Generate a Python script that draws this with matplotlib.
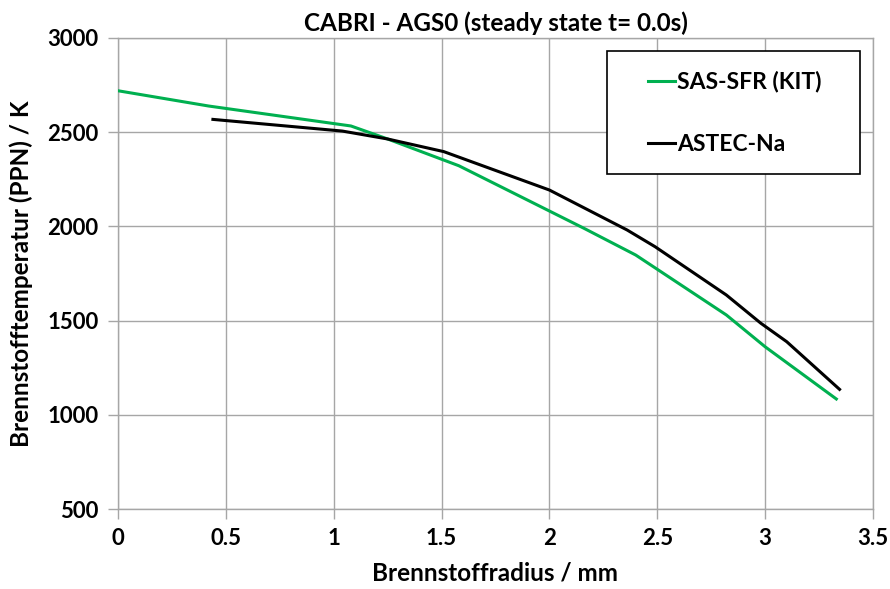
import matplotlib
matplotlib.use("Agg")
import matplotlib.pyplot as plt
from matplotlib.patches import Rectangle

# Data
sas_x = [0.0, 0.42, 1.08, 1.25, 1.58, 2.16, 2.40, 2.82, 3.00, 3.33]
sas_y = [2720, 2639, 2533, 2464, 2322, 1990, 1848, 1530, 1361, 1084]

astec_x = [0.44, 1.04, 1.25, 1.51, 2.00, 2.27, 2.36, 2.49, 2.82, 2.98, 3.10, 3.345]
astec_y = [2568, 2506, 2464, 2397, 2193, 2034, 1981, 1892, 1636, 1486, 1388, 1135]

x_ticks = [0, 0.5, 1, 1.5, 2, 2.5, 3, 3.5]
x_ticklabels = ["0", "0.5", "1", "1.5", "2", "2.5", "3", "3.5"]
y_ticks = [500, 1000, 1500, 2000, 2500, 3000]

title = "CABRI - AGS0 (steady state t= 0.0s)"
xlabel = "Brennstoffradius / mm"
ylabel = "Brennstofftemperatur (PPN) / K"
labels = ["SAS-SFR (KIT)", "ASTEC-Na"]

plt.rcParams['font.family'] = ['Lato', 'DejaVu Sans']

W, H = 890, 589
fig = plt.figure(figsize=(W/100, H/100), dpi=100)
ax = fig.add_axes([118/W, 1-509/H, (873-118)/W, (509-38)/H])

ax.plot(sas_x, sas_y, color="#00B050", lw=2.2, label=labels[0], zorder=3)
ax.plot(astec_x, astec_y, color="#000000", lw=2.2, label=labels[1], zorder=3)

ax.set_xlim(0, 3.5)
ax.set_ylim(500, 3000)
ax.set_xticks(x_ticks)
ax.set_xticklabels(x_ticklabels)
ax.set_yticks(y_ticks)

ax.grid(True, color="#a6a6a6", lw=1.0)
for s in ax.spines.values():
    s.set_color("#a6a6a6")
    s.set_linewidth(1.0)

ax.tick_params(axis="both", length=7, width=1.0, color="#a6a6a6",
               labelsize=16, pad=7)
for lab in ax.get_xticklabels() + ax.get_yticklabels():
    lab.set_fontweight("bold")

ax.set_title(title, fontsize=17.5, fontweight="bold", pad=5)
ax.set_xlabel(xlabel, fontsize=17.5, fontweight="bold", labelpad=9)
ax.set_ylabel(ylabel, fontsize=17.5, fontweight="bold", labelpad=10)

# legend frame
frame = Rectangle((607/W, 1-174/H), (860-607)/W, (174-51.5)/H,
                  transform=fig.transFigure, facecolor="white",
                  edgecolor="black", lw=1.2, zorder=4, clip_on=False)
ax.add_patch(frame)
leg = ax.legend(loc="upper left", bbox_to_anchor=(648/W, 1-71/H),
                bbox_transform=fig.transFigure,
                frameon=False, prop={"size": 16.5, "weight": "bold"},
                handlelength=1.18, handletextpad=0.08,
                labelspacing=1.8, borderpad=0, borderaxespad=0)
leg.set_zorder(5)

fig.savefig("out.png", dpi=100)
